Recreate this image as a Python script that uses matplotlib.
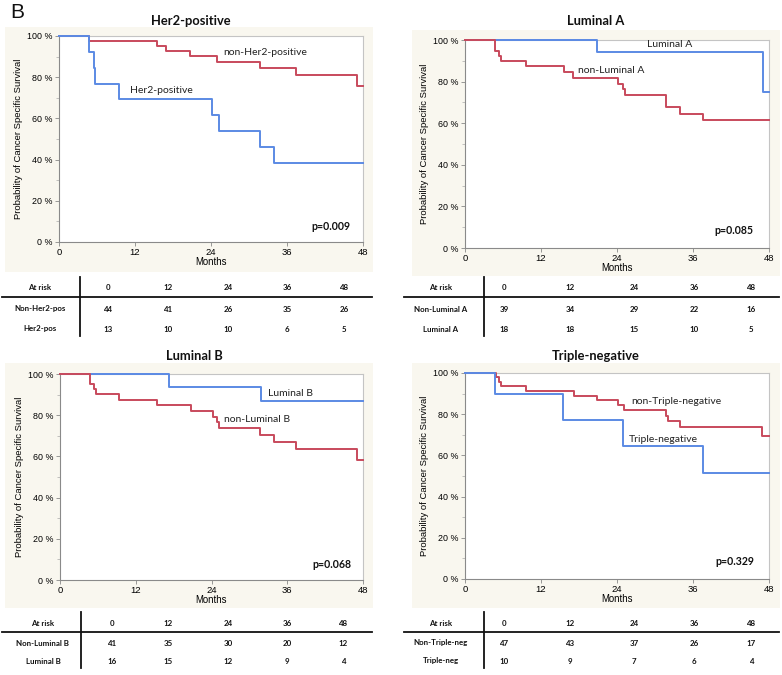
import matplotlib
matplotlib.use("Agg")
import matplotlib.pyplot as plt
from matplotlib.patches import Rectangle
from matplotlib.ticker import FixedLocator

# ---------------- data ----------------
months_ticks = [0, 12, 24, 36, 48]
pct_ticks = [0, 20, 40, 60, 80, 100]

her2_neg_t = [0, 4.8, 15.4, 16.9, 20.7, 24.9, 31.8, 37.4, 47.1, 48]
her2_neg_s = [100, 97.6, 95.2, 92.7, 90.1, 87.6, 84.5, 81.3, 75.9, 75.9]
her2_pos_t = [0, 4.7, 5.5, 5.7, 9.5, 24.1, 25.2, 31.8, 34.0, 48]
her2_pos_s = [100, 92.3, 84.6, 76.9, 69.2, 61.5, 53.8, 46.2, 38.5, 38.5]

lumA_pos_t = [0, 20.8, 47.0, 48]
lumA_pos_s = [100, 94.1, 75.2, 75.2]
lumA_neg_t = [0, 4.8, 5.3, 5.7, 9.6, 15.6, 17.1, 24.2, 24.9, 25.3, 31.8, 33.9, 37.5, 48]
lumA_neg_s = [100, 94.9, 92.3, 89.9, 87.4, 84.8, 81.9, 79.0, 76.6, 73.4, 67.8, 64.5, 61.6, 61.6]

lumB_pos_t = [0, 17.2, 31.9, 48]
lumB_pos_s = [100, 93.7, 86.7, 86.7]
lumB_neg_t = [0, 4.8, 5.4, 5.7, 9.4, 15.3, 20.7, 24.2, 24.8, 25.2, 31.7, 33.9, 37.4, 47.0, 48]
lumB_neg_s = [100, 95.3, 92.6, 90.1, 87.5, 84.8, 82.2, 79.1, 76.5, 73.6, 70.4, 67.2, 63.8, 58.3, 58.3]

tn_pos_t = [0, 4.7, 15.5, 25.0, 37.5, 48]
tn_pos_s = [100, 90.0, 77.0, 64.4, 51.3, 51.3]
tn_neg_t = [0, 4.9, 5.3, 5.7, 9.6, 17.2, 20.9, 24.2, 25.1, 31.8, 32.1, 33.9, 46.9, 48]
tn_neg_s = [100, 97.9, 95.6, 93.5, 91.2, 89.0, 86.7, 84.5, 82.0, 79.3, 76.7, 73.8, 69.6, 69.6]

titles = ["Her2-positive", "Luminal A", "Luminal B", "Triple-negative"]
p_values = ["p=0.009", "p=0.085", "p=0.068", "p=0.329"]

risk_times = [0, 12, 24, 36, 48]
risk_labels = [["Non-Her2-pos", "Her2-pos"],
               ["Non-Luminal A", "Luminal A"],
               ["Non-Luminal B", "Luminal B"],
               ["Non-Triple-neg", "Triple-neg"]]
risk_her2 = [[44, 41, 26, 35, 26], [13, 10, 10, 6, 5]]
risk_lumA = [[39, 34, 29, 22, 16], [18, 18, 15, 10, 5]]
risk_lumB = [[41, 35, 30, 20, 12], [16, 15, 12, 9, 4]]
risk_tn = [[47, 43, 37, 26, 17], [10, 9, 7, 6, 4]]

# ---------------- style ----------------
W, H = 782, 675
RED = "#c84a5c"
BLUE = "#5b8ae4"
BG = "#f9f7ef"
LAB_FONT = ["Lato", "DejaVu Sans"]
TICK_FONT = ["Liberation Sans", "DejaVu Sans"]

fig = plt.figure(figsize=(W / 100, H / 100), dpi=100)
fig.patch.set_facecolor("white")

# overlay in pixel coordinates
ov = fig.add_axes([0, 0, 1, 1], zorder=0)
ov.set_xlim(0, W)
ov.set_ylim(H, 0)
ov.axis("off")


def fax(left, top, right, bottom):
    return fig.add_axes([left / W, 1 - bottom / H, (right - left) / W, (bottom - top) / H], zorder=2)


panels = [
    dict(ax=(59, 36, 363, 242), bg=(5, 27, 373, 272), title_xy=(191, 21),
         curves=[(her2_neg_t, her2_neg_s, RED, "non-Her2-positive", 26.0, 92.1),
                 (her2_pos_t, her2_pos_s, BLUE, "Her2-positive", 11.2, 73.5)],
         p_xy=(46.0, 7.5), risk=risk_her2,
         table=dict(vx=80, vy=(277, 336), hy=297, hx=(2, 372), rows=(288, 309, 329),
                    cols=[108, 168, 228, 287, 344], labx=40)),
    dict(ax=(465, 40, 769, 248), bg=(412, 30, 780, 276), title_xy=(596, 21),
         curves=[(lumA_pos_t, lumA_pos_s, BLUE, "Luminal A", 28.7, 97.6),
                 (lumA_neg_t, lumA_neg_s, RED, "non-Luminal A", 17.8, 85.4)],
         p_xy=(45.5, 8.5), risk=risk_lumA,
         table=dict(vx=484, vy=(277, 336), hy=297, hx=(404, 779), rows=(288, 309, 329),
                    cols=[504, 570, 634, 694, 751], labx=441)),
    dict(ax=(60, 374, 363, 580), bg=(5, 363, 373, 608), title_xy=(194, 356),
         curves=[(lumB_pos_t, lumB_pos_s, BLUE, "Luminal B", 32.9, 90.6),
                 (lumB_neg_t, lumB_neg_s, RED, "non-Luminal B", 26.0, 77.7)],
         p_xy=(46.2, 7.6), risk=risk_lumB,
         table=dict(vx=81, vy=(612, 668), hy=632, hx=(2, 372), rows=(623, 643, 661),
                    cols=[112, 168, 228, 287, 343], labx=43)),
    dict(ax=(465, 373, 769, 579), bg=(412, 363, 780, 608), title_xy=(596, 356),
         curves=[(tn_neg_t, tn_neg_s, RED, "non-Triple-negative", 26.2, 86.4),
                 (tn_pos_t, tn_pos_s, BLUE, "Triple-negative", 25.8, 67.8)],
         p_xy=(45.6, 8.3), risk=risk_tn,
         table=dict(vx=484, vy=(612, 668), hy=632, hx=(404, 779), rows=(623, 643, 661),
                    cols=[504, 570, 634, 694, 751], labx=441)),
]

for i, P in enumerate(panels):
    # panel background
    bx0, by0, bx1, by1 = P["bg"]
    ov.add_patch(Rectangle((bx0, by0), bx1 - bx0, by1 - by0, facecolor=BG,
                           edgecolor="none", zorder=0))
    ax = fax(*P["ax"])
    ax.set_facecolor("white")
    for (t, s, c, lab, lx, ly) in P["curves"]:
        ax.step(t, s, where="post", color=c, lw=1.4, clip_on=False, zorder=3)
        ax.text(lx, ly, lab, fontsize=7.5, family=LAB_FONT, color="#222222",
                ha="left", va="center")
    ax.text(P["p_xy"][0], P["p_xy"][1], p_values[i], fontsize=7.6, family=LAB_FONT,
            fontweight="bold", ha="right", va="center", color="#111111")
    ax.set_xlim(0, 48)
    ax.set_ylim(0, 100)
    ax.set_xticks(months_ticks)
    ax.set_xticklabels([str(m) for m in months_ticks], family=TICK_FONT, fontsize=6.8)
    ax.set_yticks(pct_ticks)
    ax.set_yticklabels([f"{p} %" for p in pct_ticks], family=TICK_FONT, fontsize=6.4)
    ax.yaxis.set_minor_locator(FixedLocator([10, 30, 50, 70, 90]))
    ax.tick_params(axis="both", which="major", length=3, width=0.6, color="#888888", pad=1.5)
    ax.tick_params(axis="y", which="minor", length=2, width=0.5, color="#aaaaaa")
    ax.set_xlabel("Months", family=TICK_FONT, fontsize=6.9, labelpad=0)
    ax.set_ylabel("Probability of Cancer Specific Survival", family=TICK_FONT,
                  fontsize=6.8, labelpad=3)
    for side in ("left", "bottom"):
        ax.spines[side].set_color("#8a8a8a")
        ax.spines[side].set_linewidth(0.8)
    for side in ("top", "right"):
        ax.spines[side].set_color("#c4c4c4")
        ax.spines[side].set_linewidth(0.8)

    # title
    tx, ty = P["title_xy"]
    ov.text(tx, ty, titles[i], fontsize=9.3, family=LAB_FONT, fontweight="bold",
            ha="center", va="center", color="#111111", zorder=5)

    # risk table
    T = P["table"]
    ov.plot([T["vx"], T["vx"]], list(T["vy"]), color="#111111", lw=1.3, zorder=5)
    ov.plot(list(T["hx"]), [T["hy"], T["hy"]], color="#111111", lw=1.3, zorder=5)
    ry = T["rows"]
    tk = dict(fontsize=5.7, family=LAB_FONT, fontweight="bold", ha="center",
              va="center", color="#111111", zorder=5)
    ov.text(T["labx"], ry[0], "At risk", **tk)
    for cx, m in zip(T["cols"], risk_times):
        ov.text(cx, ry[0], str(m), **tk)
    for r in range(2):
        ov.text(T["labx"], ry[r + 1], risk_labels[i][r], **tk)
        for cx, v in zip(T["cols"], P["risk"][r]):
            ov.text(cx, ry[r + 1], str(v), **tk)

ov.text(10, 13, "B", fontsize=15, family=TICK_FONT, ha="left", va="center",
        color="#111111", zorder=5)

fig.savefig("out.png", dpi=100, facecolor="white")
